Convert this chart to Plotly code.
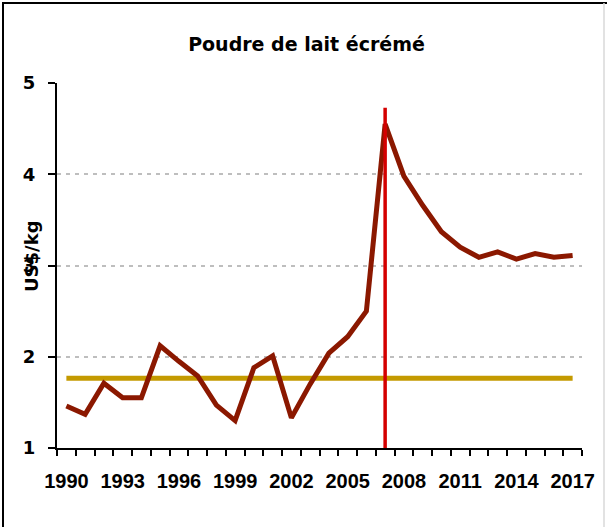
import plotly.graph_objects as go

years = list(range(1990, 2018))
prices = [1.46, 1.37, 1.71, 1.55, 1.55, 2.12, 1.95, 1.79, 1.47, 1.30,
          1.88, 2.01, 1.33, 1.70, 2.04, 2.22, 2.50, 4.55, 3.98, 3.66,
          3.37, 3.20, 3.09, 3.15, 3.07, 3.13, 3.09, 3.11]
reference_level = [1.765] * len(years)
marker_year = [2007, 2007]
marker_span = [1.0, 4.73]
tick_years = [1990, 1993, 1996, 1999, 2002, 2005, 2008, 2011, 2014, 2017]
y_ticks = [1, 2, 3, 4, 5]

FONT = "Liberation Sans, Arial, sans-serif"
WIDE = "DejaVu Sans, sans-serif"

fig = go.Figure()
fig.add_trace(go.Scatter(x=years, y=reference_level, mode="lines",
                         line=dict(color="#C49A00", width=5),
                         hoverinfo="skip"))
fig.add_trace(go.Scatter(x=years, y=prices, mode="lines",
                         line=dict(color="#8B1800", width=5)))
fig.add_trace(go.Scatter(x=marker_year, y=marker_span, mode="lines",
                         line=dict(color="#D40000", width=3.5)))

W, H = 613, 527
L, R, T, B = 57, 31, 83, 79
pw, ph = W - L - R, H - T - B


def px_x(p):
    return (p - L) / pw


def px_y(p):
    return (H - B - p) / ph


fig.update_layout(
    width=W, height=H, autosize=False,
    margin=dict(l=L, r=R, t=T, b=B),
    paper_bgcolor="white", plot_bgcolor="white",
    showlegend=False,
    font=dict(family=FONT, size=20, color="black", weight="bold"),
    title=dict(text="Poudre de lait écrémé", x=0.5, xanchor="center",
               xref="container", y=1 - 44 / H, yanchor="middle",
               yref="container",
               font=dict(family=WIDE, size=19, color="black", weight="bold")),
    xaxis=dict(range=[1989.5, 2017.5], tickmode="array", tickvals=tick_years,
               ticktext=[str(y) for y in tick_years], ticks="",
               showgrid=False, zeroline=False, showline=True,
               linecolor="black", linewidth=2,
               ticklabelstandoff=14,
               tickfont=dict(family=FONT, size=20, color="black", weight="bold"),
               minor=dict(tick0=1989.5, dtick=1, ticks="outside", ticklen=6,
                          tickwidth=2, tickcolor="black", showgrid=False)),
    yaxis=dict(range=[1, 5], tickmode="array", tickvals=y_ticks,
               ticks="outside", ticklen=7, tickwidth=2, tickcolor="black",
               showline=True, linecolor="black", linewidth=2,
               showgrid=True, gridcolor="#BEBEBE", gridwidth=2,
               griddash="4px,5px", zeroline=False,
               ticklabelstandoff=9,
               tickfont=dict(family=WIDE, size=18, color="black", weight="bold")),
    shapes=[
        dict(type="line", xref="paper", yref="paper", x0=px_x(3), x1=px_x(3),
             y0=px_y(2), y1=px_y(540), line=dict(color="black", width=2)),
        dict(type="line", xref="paper", yref="paper", x0=px_x(2), x1=px_x(607),
             y0=px_y(3), y1=px_y(3), line=dict(color="black", width=2)),
        dict(type="line", xref="paper", yref="paper", x0=px_x(604), x1=px_x(604),
             y0=px_y(3), y1=px_y(540), line=dict(color="#D8D8D8", width=1.5)),
    ],
    annotations=[
        dict(text="US$/kg", textangle=-90, xref="paper", yref="paper",
             x=px_x(31), y=px_y(256), xanchor="center", yanchor="middle",
             showarrow=False,
             font=dict(family=WIDE, size=18, color="black", weight="bold")),
    ],
)

fig.write_html("out.html", config={"displayModeBar": False},
               post_script="document.body.style.margin='0';"
                           "document.body.style.overflow='hidden';")
